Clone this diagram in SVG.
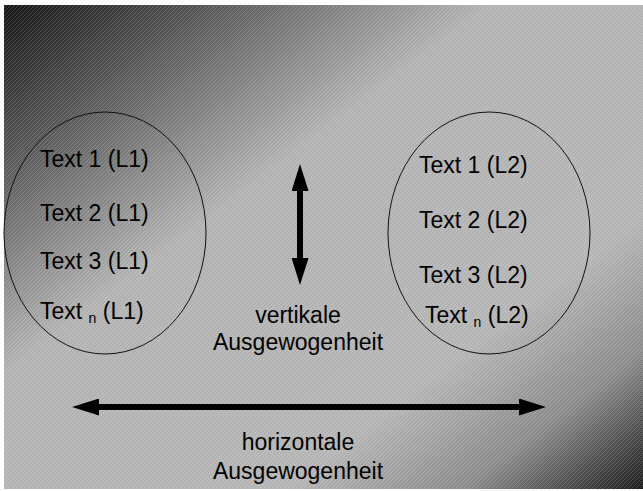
<svg xmlns="http://www.w3.org/2000/svg" width="643" height="491" viewBox="0 0 643 491">
<defs>
<linearGradient id="bg" x1="0" y1="0" x2="1" y2="1">
<stop offset="0" stop-color="#141414"/>
<stop offset="0.38" stop-color="#b2b2b2"/>
<stop offset="0.72" stop-color="#b4b4b4"/>
<stop offset="0.86" stop-color="#8a8a8a"/>
<stop offset="1" stop-color="#1c1c1c"/>
</linearGradient>
<pattern id="hatch" width="4" height="4" patternUnits="userSpaceOnUse">
<path d="M-1,1 L1,-1 M0,4 L4,0 M3,5 L5,3" stroke="#ffffff" stroke-opacity="0.18" stroke-width="1"/>
</pattern>
<marker id="ah" viewBox="0 0 27 17" refX="1" refY="8.5" markerWidth="27" markerHeight="17" markerUnits="userSpaceOnUse" orient="auto-start-reverse">
<path d="M0,0 L27,8.5 L0,17 Z" fill="#000"/>
</marker>
</defs>
<style>
.t{font-family:"Liberation Sans",Arial,sans-serif;font-size:23px;fill:#000}
.c{text-anchor:middle}
.e{fill:none;stroke:#111;stroke-width:1}
.a{stroke:#000;stroke-width:6;marker-start:url(#ah);marker-end:url(#ah)}
</style>
<rect x="0" y="0" width="643" height="491" fill="#fff"/>
<rect x="4" y="5" width="639" height="484" fill="url(#bg)"/>
<rect x="4" y="5" width="639" height="484" fill="url(#hatch)"/>
<g id="left">
<ellipse class="e" cx="105" cy="233" rx="101" ry="121"/>
<text class="t" x="40" y="167">Text 1 (L1)</text>
<text class="t" x="40" y="221">Text 2 (L1)</text>
<text class="t" x="40" y="269">Text 3 (L1)</text>
<text class="t" x="40" y="319">Text <tspan font-size="14" dy="4">n</tspan><tspan dy="-4"> (L1)</tspan></text>
</g>
<g id="right">
<ellipse class="e" cx="489" cy="233" rx="101" ry="121"/>
<text class="t" x="419" y="173">Text 1 (L2)</text>
<text class="t" x="419" y="228">Text 2 (L2)</text>
<text class="t" x="419" y="283">Text 3 (L2)</text>
<text class="t" x="425" y="323">Text <tspan font-size="14" dy="4">n</tspan><tspan dy="-4"> (L2)</tspan></text>
</g>
<g id="connectors">
<line class="a" x1="300" y1="190" x2="300" y2="259"/>
<line class="a" x1="98" y1="407" x2="520" y2="407"/>
</g>
<g id="vlabel">
<text class="t c" x="298" y="323">vertikale</text>
<text class="t c" x="298" y="350">Ausgewogenheit</text>
</g>
<g id="hlabel">
<text class="t c" x="298" y="450">horizontale</text>
<text class="t c" x="298" y="479">Ausgewogenheit</text>
</g>
</svg>
